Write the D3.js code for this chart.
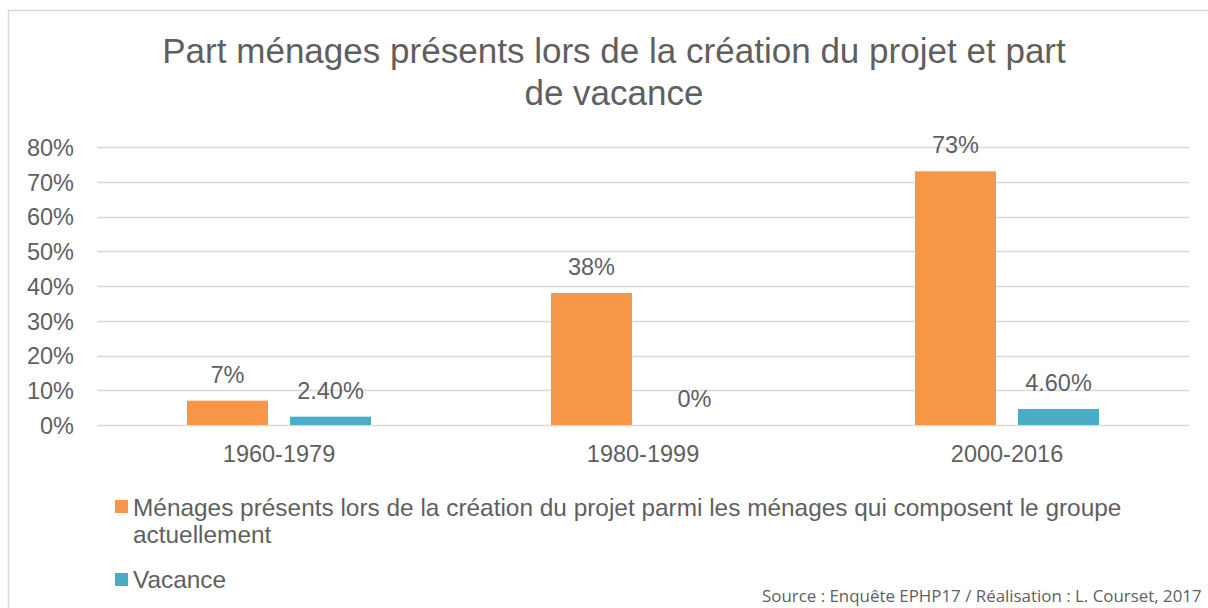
<!DOCTYPE html>
<html><head><meta charset="utf-8">
<script src="https://cdn.jsdelivr.net/npm/d3@7"></script>
<style>body{margin:0;background:#fff;}svg{display:block;}</style>
</head><body>
<svg id="c" width="1208" height="608"></svg>
<script>
const categories = ["1960-1979", "1980-1999", "2000-2016"];
const seriesNames = ["Ménages présents lors de la création du projet parmi les ménages qui composent le groupe", "Vacance"];
const menages = [0.07, 0.38, 0.73];
const vacance = [0.024, 0.0, 0.046];
const menagesLabels = ["7%", "38%", "73%"];
const vacanceLabels = ["2.40%", "0%", "4.60%"];
const yTicks = [0, 0.1, 0.2, 0.3, 0.4, 0.5, 0.6, 0.7, 0.8];
const colors = ["#F79646", "#4BACC6"];

const svg = d3.select("#c");
const font = "'Liberation Sans', Arial, sans-serif";
const txt = "#5f5f5f";
const fs = "23.5px";

function fit(sel, target) {
  const w = sel.node().getComputedTextLength();
  const cur = parseFloat(sel.style("font-size"));
  sel.style("font-size", (cur * target / w) + "px");
}

// frame
svg.append("rect").attr("x", 8.5).attr("y", 10.5).attr("width", 1250).attr("height", 650)
  .attr("fill", "none").attr("stroke", "#d9d9d9").attr("stroke-width", 1.5);

// title
const t1 = svg.append("text").attr("text-anchor", "middle").attr("fill", txt).attr("x", 614).attr("y", 63)
  .style("font-family", font).style("font-size", "32px").text("Part ménages présents lors de la création du projet et part");
fit(t1, 904);
svg.append("text").attr("text-anchor", "middle").attr("fill", txt).attr("x", 614).attr("y", 105)
  .style("font-family", font).style("font-size", t1.style("font-size")).text("de vacance");

const x0 = d3.scaleBand().domain(categories).range([97, 1189]);
const y = d3.scaleLinear().domain([0, 0.8]).range([425, 147]);

// grid
svg.append("g").selectAll("line").data(yTicks).join("line")
  .attr("x1", 97).attr("x2", 1189)
  .attr("y1", d => Math.round(y(d)) + 0.5).attr("y2", d => Math.round(y(d)) + 0.5)
  .attr("stroke", "#d9d9d9").attr("stroke-width", 1.5);

// y axis labels
const yAxis = d3.axisLeft(y).tickValues(yTicks).tickFormat(d3.format(".0%")).tickSize(0).tickPadding(0);
const ya = svg.append("g").attr("transform", "translate(74,0)").call(yAxis);
ya.select(".domain").remove();
ya.selectAll("text").attr("fill", txt).style("font-family", font).style("font-size", fs).attr("dy", "0.36em");

// x axis labels
const xAxis = d3.axisBottom(x0).tickSize(0).tickPadding(0);
const xa = svg.append("g").attr("transform", "translate(0,445)").call(xAxis);
xa.select(".domain").remove();
xa.selectAll("text").attr("fill", txt).style("font-family", font).style("font-size", fs).attr("dy", "0.71em");

// bars
const x1 = d3.scaleBand().domain([0, 1]).range([90, 274]).paddingInner(0.214);
const series = [menages, vacance];
const labels = [menagesLabels, vacanceLabels];
series.forEach((vals, si) => {
  const g = svg.append("g");
  g.selectAll("rect").data(vals).join("rect")
    .attr("x", (d, i) => x0(categories[i]) + x1(si))
    .attr("width", x1.bandwidth())
    .attr("y", d => y(d))
    .attr("height", d => y(0) - y(d))
    .attr("fill", colors[si]);
  g.selectAll("text").data(vals).join("text")
    .attr("x", (d, i) => x0(categories[i]) + x1(si) + x1.bandwidth() / 2)
    .attr("y", d => y(d) - 18)
    .attr("text-anchor", "middle").attr("fill", txt)
    .style("font-family", font).style("font-size", fs)
    .text((d, i) => labels[si][i]);
});

// legend
const leg = svg.append("g").style("font-family", font);
leg.append("rect").attr("x", 115).attr("y", 500).attr("width", 13).attr("height", 13).attr("fill", colors[0]);
const l1 = leg.append("text").attr("fill", txt).attr("x", 133).attr("y", 516).style("font-size", "22px").text(seriesNames[0]);
fit(l1, 989);
const lfs = l1.style("font-size");
leg.append("text").attr("fill", txt).attr("x", 133).attr("y", 543).style("font-size", lfs).text("actuellement");
leg.append("rect").attr("x", 115).attr("y", 573).attr("width", 13).attr("height", 13).attr("fill", colors[1]);
leg.append("text").attr("x", 133).attr("y", 588).attr("fill", txt).style("font-size", lfs).text(seriesNames[1]);

// source
const src = svg.append("text").attr("x", 762).attr("y", 602).attr("fill", txt)
  .style("font-family", "'Open Sans', 'Liberation Sans', sans-serif").style("font-size", "14.5px")
  .text("Source : Enquête EPHP17 / Réalisation : L. Courset, 2017");
fit(src, 440);
</script>
</body></html>
